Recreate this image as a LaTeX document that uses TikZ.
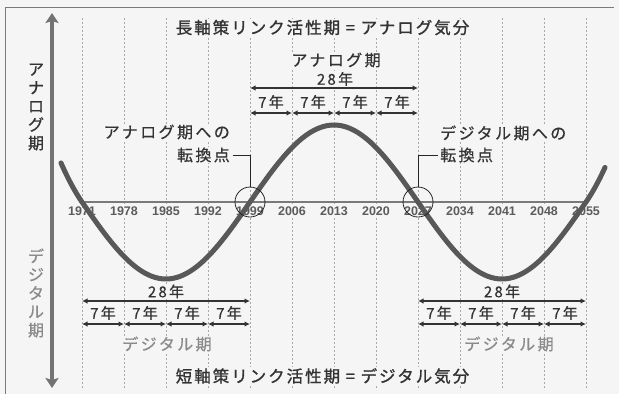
\documentclass[tikz,border=0pt]{standalone}
\usepackage{fontspec}
\setmainfont{Noto Sans CJK JP}
\newfontfamily\jp[LetterSpace=15,FakeBold=0.6]{Noto Sans CJK JP}
\newfontfamily\jpt[LetterSpace=12,FakeBold=1.2]{Noto Sans CJK JP}
\newfontfamily\yrfont{Liberation Sans}
\usetikzlibrary{arrows.meta}
\definecolor{bg}{gray}{0.96}
\definecolor{ink}{HTML}{333333}
\definecolor{curvec}{HTML}{585858}
\definecolor{lightink}{HTML}{8A8A8A}
\definecolor{dashc}{HTML}{A8A8A8}
\definecolor{axisc}{HTML}{7A7A7A}
\begin{document}
\begin{tikzpicture}[x=1pt,y=-1pt,
  dline/.style={dashc, line width=0.7pt, dash pattern=on 2pt off 2pt},
  dimarr/.style={ink, line width=1.3pt, {Latex[length=5.5pt,width=5.5pt]}-{Latex[length=5.5pt,width=5.5pt]}},
  lbl/.style={inner sep=1pt, fill=bg, text=ink, font=\jp\fontsize{15}{17}\selectfont},
  biglbl/.style={inner sep=1pt, fill=bg, text=ink, font=\jp\fontsize{16}{18}\selectfont},
  graylbl/.style={inner sep=1pt, fill=bg, text=lightink, font=\jp\fontsize{16}{18}\selectfont},
  title/.style={inner sep=1pt, fill=bg, text=ink, font=\jpt\fontsize{16.5}{18}\selectfont},
  yr/.style={inner sep=0.5pt, fill=bg, text=ink!80, font=\yrfont\bfseries\fontsize{12.5}{14}\selectfont},
  vtext/.style={align=center, inner sep=0pt, font=\jp\fontsize{16}{18.5}\selectfont},
  ring/.style={circle, draw=black!85, line width=0.8pt, minimum size=30pt, inner sep=0pt},
  leader/.style={draw=black!85, line width=0.8pt},
]
\fill[bg] (0,0) rectangle (619,394);
\useasboundingbox (0,0) rectangle (619,394);
% frame
\draw[axisc, line width=0.6pt] (5,394) -- (5,7) -- (614,7);
% dashed year lines
\foreach \i in {0,...,12}{
  \coordinate (top\i) at ({82+42*\i},18);
  \coordinate (bot\i) at ({82+42*\i},390);
  \draw[dline] (top\i) -- (bot\i);
}
% year labels
\foreach \i in {0,...,12}{
  \pgfmathtruncatemacro\yy{1971+7*\i}
  \node[yr] (y\i) at ({82+42*\i},211) {\yy};
}
% axis
\coordinate (ax0) at (82,202);
\coordinate (ax1) at (587,202);
\draw[axisc, line width=1.2pt] (ax0) -- (ax1);
% left vertical arrow
\coordinate (vtop) at (52,13);
\coordinate (vbot) at (52,388);
\draw[black!55, line width=3.5pt, {Stealth[length=10pt,width=13pt,inset=2pt]}-{Stealth[length=10pt,width=13pt,inset=2pt]}] (vbot) -- (vtop);
\node[vtext, text=ink] (vana) at (36,107) {ア\\ナ\\ロ\\グ\\期};
\node[vtext, text=lightink] (vdig) at (36,293) {デ\\ジ\\タ\\ル\\期};
% curve
\draw[curvec, line width=5pt, line cap=round]
  plot[domain=61:82, samples=12] (\x,{202-1.44*(82-\x)-0.02*(82-\x)*(82-\x)})
  -- plot[domain=82:586, samples=160] (\x,{202-77*cos((\x-334)*1.0714286)})
  -- plot[domain=586:605, samples=12] (\x,{202-1.44*(\x-586)-0.02*(\x-586)*(\x-586)});
% rings
\node[ring] (c1) at (250,202) {};
\node[ring] (c2) at (418,202) {};
% titles
\node[title] (ttop) at (322.5,27.5) {長軸策リンク活性期 = アナログ気分};
\node[title] (tbot) at (322.5,376) {短軸策リンク活性期 = デジタル気分};
% top analog period
\node[biglbl] (ana) at (336,60) {アナログ期};
\node[lbl] (a28) at (335,79) {28年};
\coordinate (ta0) at (250,88);
\coordinate (ta1) at (418,88);
\draw[dimarr] (ta0) -- (ta1);
\foreach \i in {0,...,3}{
  \coordinate (sa\i) at ({250+42*\i},113);
  \node[lbl] (a7\i) at ({271+42*\i},102) {7年};
}
\coordinate (sa4) at (418,113);
\foreach \i/\j in {0/1,1/2,2/3,3/4}{\draw[dimarr] (sa\i) -- (sa\j);}
% bottom left digital period
\node[lbl] (d28a) at (166,291.5) {28年};
\coordinate (tb0) at (82,301);
\coordinate (tb1) at (250,301);
\draw[dimarr] (tb0) -- (tb1);
\foreach \i in {0,...,4}{\coordinate (sb\i) at ({82+42*\i},324);}
\foreach \i in {0,...,3}{\node[lbl] (b7\i) at ({103+42*\i},313) {7年};}
\foreach \i/\j in {0/1,1/2,2/3,3/4}{\draw[dimarr] (sb\i) -- (sb\j);}
\node[graylbl] (dga) at (167,344) {デジタル期};
% bottom right digital period
\node[lbl] (d28b) at (502,291.5) {28年};
\coordinate (tc0) at (418,301);
\coordinate (tc1) at (586,301);
\draw[dimarr] (tc0) -- (tc1);
\foreach \i in {0,...,4}{\coordinate (sc\i) at ({418+42*\i},324);}
\foreach \i in {0,...,3}{\node[lbl] (c7\i) at ({439+42*\i},313) {7年};}
\foreach \i/\j in {0/1,1/2,2/3,3/4}{\draw[dimarr] (sc\i) -- (sc\j);}
\node[graylbl] (dgb) at (509,344) {デジタル期};
% turning point labels
\node[biglbl, anchor=east] (p1a) at (231,132) {アナログ期への};
\node[biglbl, anchor=east] (p1b) at (231,155) {転換点};
\node[biglbl, anchor=west] (p2a) at (439,133) {デジタル期への};
\node[biglbl, anchor=west] (p2b) at (439,155) {転換点};
\draw[leader, shorten <=1.5pt] (p1b.east) -| (c1.north);
\draw[leader, shorten <=1.5pt] (p2b.west) -| (c2.north);
\end{tikzpicture}
\end{document}
